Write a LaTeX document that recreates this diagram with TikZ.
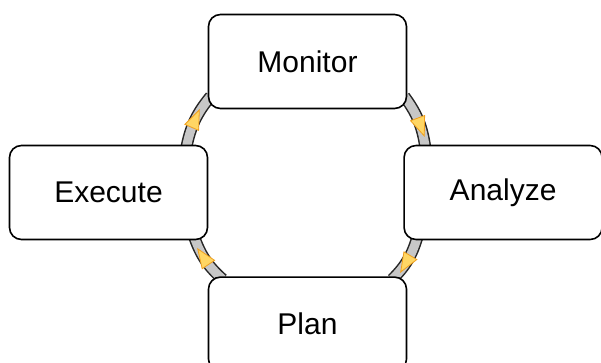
\documentclass[tikz,border=0pt]{standalone}
\usepackage{fontspec}
\setmainfont{Liberation Sans}
\usetikzlibrary{positioning,backgrounds,shapes.geometric}

\definecolor{tipfill}{RGB}{255,214,100}
\definecolor{tipdraw}{RGB}{240,160,30}

\begin{document}
\begin{tikzpicture}[
    x=1pt, y=1pt,
    stage/.style={rectangle, draw, line width=1.6pt, fill=white, rounded corners=12pt, minimum width=198pt, minimum height=94pt, font=\fontsize{30}{36}\selectfont},
    band/.style={line width=1.5pt, draw=black!85, double=black!22, double distance=9pt, bend left=14},
    tipmark/.style={isosceles triangle, isosceles triangle stretches, sloped, allow upside down, draw=tipdraw, fill=tipfill, line width=0.8pt, minimum height=19pt, minimum width=15pt, inner sep=0pt}
]
\useasboundingbox (0,0) rectangle (601,362);

% Stages
\node[stage] (monitor) at (307.5,300.5) {Monitor};
\node[stage, below=167pt of monitor] (plan) {Plan};
\node[stage] (execute) at (108.5,169.5) {Execute};
\node[stage, right=195pt of execute] (analyze) {Analyze};

% Loop
\begin{pgfonlayer}{background}
\draw[band] ([xshift=-3pt, yshift=13pt]monitor.south east) to node[tipmark, pos=0.55] (tip1) {} ([xshift=22pt, yshift=-3pt]analyze.north west);
\draw[band] ([xshift=14pt, yshift=3pt]analyze.south west) to node[tipmark, pos=0.5] (tip2) {} ([xshift=-15pt, yshift=-3pt]plan.north east);
\draw[band] ([xshift=15pt, yshift=-3pt]plan.north west) to node[tipmark, pos=0.5] (tip3) {} ([xshift=-14pt, yshift=3pt]execute.south east);
\draw[band] ([xshift=-22pt, yshift=-3pt]execute.north east) to node[tipmark, pos=0.45] (tip4) {} ([xshift=3pt, yshift=13pt]monitor.south west);
\end{pgfonlayer}

\end{tikzpicture}
\end{document}
